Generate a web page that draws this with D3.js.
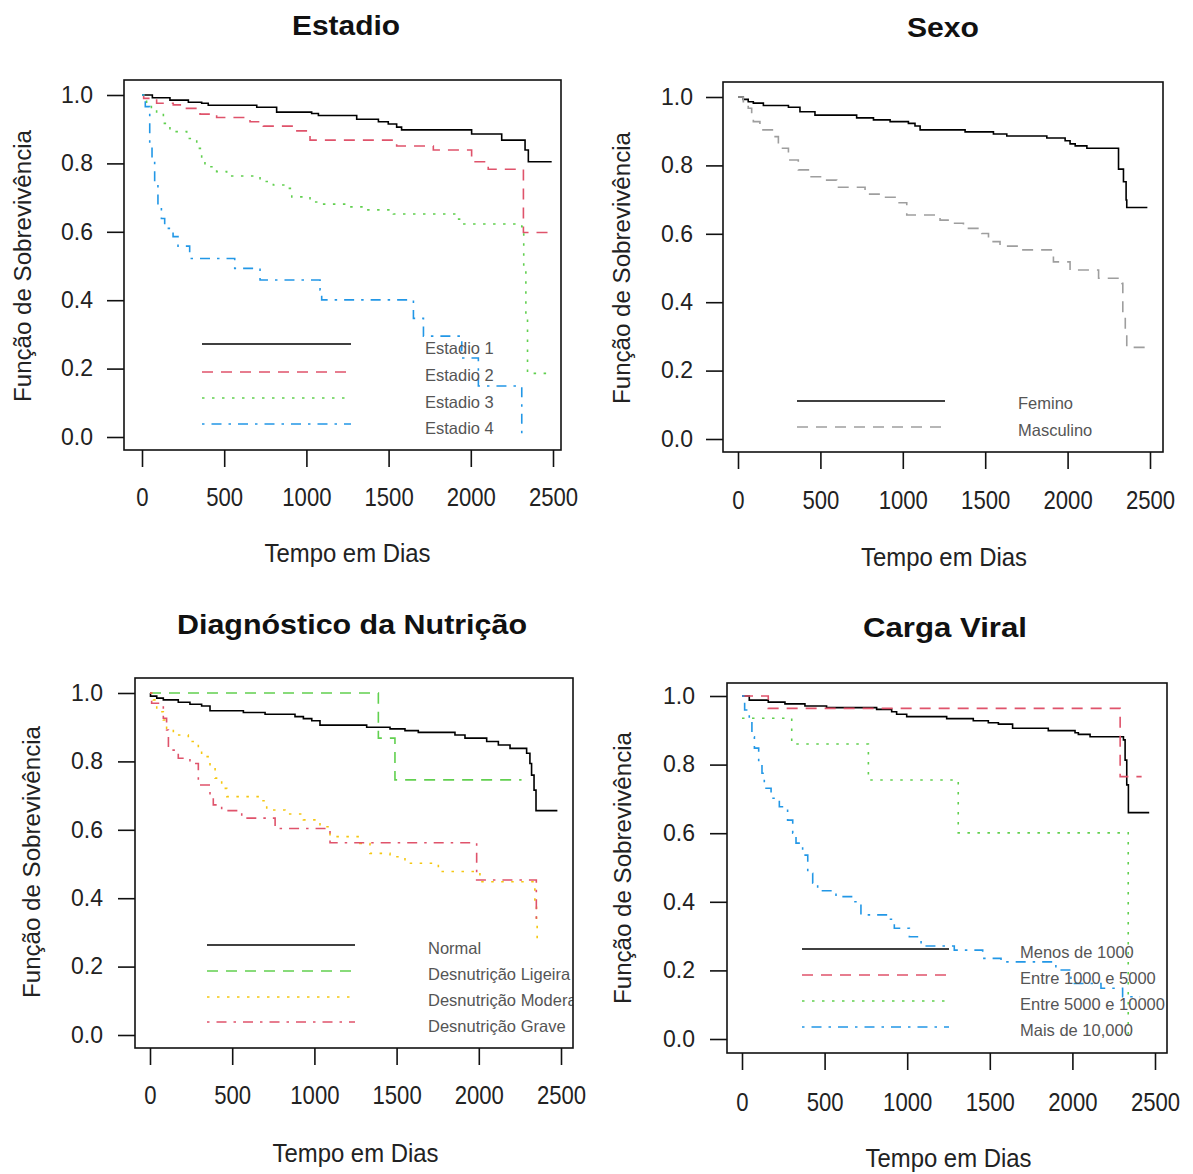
<!DOCTYPE html>
<html><head><meta charset="utf-8">
<script src="https://cdn.jsdelivr.net/npm/d3@7"></script>
<style>
body{margin:0;background:#fff;}
svg{display:block;font-family:"Liberation Sans",Arial,sans-serif;}
</style></head>
<body><svg id="c" width="1193" height="1174"></svg>
<script>
// ---------- DATA ----------
const xTicks = [0, 500, 1000, 1500, 2000, 2500];
const yTicks = [0, 0.2, 0.4, 0.6, 0.8, 1.0];
const titles = ["Estadio", "Sexo", "Diagnóstico da Nutrição", "Carga Viral"];
const xTitle = "Tempo em Dias";
const yTitle = "Função de Sobrevivência";

const estadioLabels = ["Estadio 1", "Estadio 2", "Estadio 3", "Estadio 4"];
const estadio1T = [0, 63, 170, 282, 363, 403, 698, 819, 1032, 1073, 1306, 1438, 1498, 1549, 1579, 2005, 2188, 2330, 2350, 2492];
const estadio1S = [1, .992, .985, .979, .976, .970, .964, .950, .946, .940, .929, .922, .915, .906, .898, .886, .868, .839, .805, .805];
const estadio2T = [0, 10, 89, 190, 262, 353, 454, 657, 738, 931, 1022, 1549, 1772, 2005, 2106, 2320, 2492];
const estadio2S = [1, .990, .976, .971, .961, .944, .934, .922, .909, .895, .868, .851, .839, .805, .783, .598, .598];
const estadio3T = [0, 28, 57, 89, 130, 170, 272, 333, 363, 383, 454, 515, 718, 799, 880, 911, 1022, 1083, 1245, 1347, 1529, 1914, 1945, 2310, 2322, 2335, 2345, 2463];
const estadio3S = [1, .976, .961, .946, .917, .893, .873, .844, .815, .790, .776, .763, .747, .737, .727, .702, .687, .681, .673, .664, .652, .637, .623, .615, .50, .35, .186, .186];
const estadio4T = [0, 20, 47, 61, 77, 97, 118, 138, 189, 219, 290, 564, 718, 1083, 1093, 1651, 1712, 1945, 2046, 2310];
const estadio4S = [1, .966, .849, .810, .742, .673, .639, .610, .586, .558, .522, .493, .459, .430, .401, .347, .295, .231, .149, 0];

const sexoLabels = ["Femino", "Masculino"];
const femT = [0, 32, 62, 93, 154, 306, 376, 467, 720, 822, 923, 1034, 1074, 1105, 1378, 1550, 1631, 1874, 1985, 2015, 2046, 2117, 2309, 2339, 2355, 2359, 2484];
const femS = [1, .993, .986, .982, .975, .970, .957, .947, .939, .933, .928, .923, .915, .904, .898, .892, .886, .880, .872, .863, .857, .850, .789, .752, .699, .677, .677];
const mascT = [0, 32, 62, 83, 93, 133, 214, 245, 306, 366, 427, 518, 599, 771, 872, 953, 1024, 1226, 1307, 1368, 1479, 1520, 1590, 1712, 1914, 2015, 2188, 2329, 2335, 2350, 2359, 2481];
const mascS = [1, .986, .967, .952, .928, .904, .884, .850, .816, .787, .767, .757, .736, .716, .707, .691, .655, .640, .631, .616, .601, .577, .564, .553, .518, .494, .470, .455, .368, .309, .268, .268];

const nutLabels = ["Normal", "Desnutrição Ligeira", "Desnutrição Moderada", "Desnutrição Grave"];
const normalT = [0, 3, 41, 81, 172, 243, 314, 365, 568, 700, 882, 933, 984, 1034, 1318, 1460, 1551, 1632, 1855, 1916, 2048, 2119, 2190, 2291, 2311, 2321, 2336, 2348, 2478];
const normalS = [1, .991, .985, .980, .973, .967, .962, .948, .943, .938, .931, .925, .919, .906, .900, .895, .890, .885, .877, .868, .858, .848, .838, .824, .794, .760, .716, .656, .656];
const ligeiraT = [0, 1389, 1490, 2260];
const ligeiraS = [1, .868, .746, .746];
const moderadaT = [0, 20, 41, 81, 101, 142, 233, 294, 314, 365, 396, 436, 467, 680, 710, 821, 933, 1034, 1095, 1277, 1338, 1460, 1551, 1754, 1987, 2007, 2341, 2351, 2355];
const moderadaS = [1, .980, .945, .921, .897, .877, .858, .833, .814, .785, .751, .721, .697, .685, .658, .646, .629, .609, .580, .560, .531, .521, .502, .478, .471, .448, .385, .327, .268];
const graveT = [0, 10, 81, 101, 112, 172, 243, 294, 365, 385, 436, 558, 761, 1095, 1987, 2350];
const graveS = [1, .970, .926, .892, .833, .809, .794, .731, .697, .673, .656, .634, .604, .562, .453, .34];

const cargaLabels = ["Menos de 1000", "Entre 1000 e 5000", "Entre 5000 e 10000", "Mais de 10,000"];
const menos1000T = [0, 44, 159, 260, 381, 512, 815, 906, 936, 997, 1239, 1400, 1491, 1552, 1638, 1854, 2016, 2036, 2107, 2309, 2319, 2329, 2339, 2465];
const menos1000S = [1, .988, .982, .977, .971, .966, .961, .954, .947, .940, .934, .928, .922, .918, .906, .899, .893, .888, .881, .872, .813, .741, .660, .660];
const entre1000T = [0, 159, 2289, 2419];
const entre1000S = [1, .964, .765, .765];
const entre5000T = [0, 301, 765, 1309, 2338];
const entre5000S = [.935, .860, .755, .601, 0];
const mais10000T = [0, 16, 44, 60, 75, 101, 121, 135, 176, 226, 276, 307, 327, 367, 398, 428, 458, 569, 670, 720, 882, 922, 1013, 1084, 1285, 1457, 1568, 1900, 1991, 2173, 2304, 2410];
const mais10000S = [1, .959, .930, .881, .848, .804, .775, .731, .702, .677, .638, .600, .571, .536, .483, .454, .432, .415, .400, .362, .349, .323, .298, .271, .259, .235, .225, .201, .162, .148, .123, .123];

// ---------- STYLES ----------
const BLACK = "#000000", RED = "#DF536B", GREEN = "#61D04F", BLUE = "#2297E6", YELLOW = "#F5C710", GREY = "#9E9E9E";
const DASH = {solid: null, dashed: "11,8", dotted: "2.5,7.5", dotdash: "2.5,7,10,7"};

const panels = [
  {title: titles[0], titleW: 108, box: [124, 80, 561, 450], xr: [142, 553], yr: [437, 95], ytRight: 93, yTitleX: 23, yTitleY: 266, xLabY: 497, xTitleY: 553, titleX: 346, titleY: 25,
   legX: [202, 351], legY: [344, 372, 398, 424], legTX: 425, legTY: [348, 375, 402, 428],
   series: [[estadio1T, estadio1S, BLACK, "solid"], [estadio2T, estadio2S, RED, "dashed"], [estadio3T, estadio3S, GREEN, "dotted"], [estadio4T, estadio4S, BLUE, "dotdash"]],
   labels: estadioLabels},
  {title: titles[1], titleW: 72, box: [723, 82, 1163, 452], xr: [738, 1150], yr: [439, 97], ytRight: 693, yTitleX: 622, yTitleY: 268, xLabY: 500, xTitleY: 557, titleX: 943, titleY: 27,
   legX: [797, 945], legY: [401, 427], legTX: 1018, legTY: [403, 430],
   series: [[femT, femS, BLACK, "solid"], [mascT, mascS, GREY, "dashed"]],
   labels: sexoLabels},
  {title: titles[2], titleW: 350, box: [135, 678, 573, 1048], xr: [150, 561], yr: [1035, 693], ytRight: 103, yTitleX: 32, yTitleY: 862, xLabY: 1095, xTitleY: 1153, titleX: 352, titleY: 624,
   legX: [207, 355], legY: [945, 971, 997, 1022], legTX: 428, legTY: [948, 974, 1000, 1026],
   series: [[normalT, normalS, BLACK, "solid"], [ligeiraT, ligeiraS, GREEN, "dashed"], [moderadaT, moderadaS, YELLOW, "dotted"], [graveT, graveS, RED, "dotdash"]],
   labels: nutLabels},
  {title: titles[3], titleW: 164, box: [727, 683, 1167, 1053], xr: [742, 1155], yr: [1039, 696], ytRight: 695, yTitleX: 623, yTitleY: 868, xLabY: 1102, xTitleY: 1158, titleX: 945, titleY: 627,
   legX: [802, 949], legY: [949, 975, 1001, 1027], legTX: 1020, legTY: [952, 978, 1004, 1030],
   series: [[menos1000T, menos1000S, BLACK, "solid"], [entre1000T, entre1000S, RED, "dashed"], [entre5000T, entre5000S, GREEN, "dotted"], [mais10000T, mais10000S, BLUE, "dotdash"]],
   labels: cargaLabels}
];

const svg = d3.select("#c");
const defs = svg.append("defs");

panels.forEach((p, i) => {
  const [bl, bt, br, bb] = p.box;
  const x = d3.scaleLinear().domain([0, 2500]).range(p.xr);
  const y = d3.scaleLinear().domain([0, 1]).range(p.yr);
  const g = svg.append("g");

  defs.append("clipPath").attr("id", "clip" + i)
    .append("rect").attr("x", bl).attr("y", bt).attr("width", br - bl).attr("height", bb - bt);

  // title
  g.append("text").attr("x", p.titleX).attr("y", p.titleY).attr("dy", "0.36em")
    .attr("text-anchor", "middle").attr("font-weight", "bold").attr("font-size", 27)
    .attr("textLength", p.titleW).attr("lengthAdjust", "spacingAndGlyphs")
    .attr("fill", "#111").text(p.title);

  // curves
  const line = d3.line().x(d => x(d[0])).y(d => y(d[1])).curve(d3.curveStepAfter);
  const cg = g.append("g").attr("clip-path", `url(#clip${i})`);
  p.series.forEach(([T, S, col, lt]) => {
    const pts = T.map((t, k) => [t, S[k]]);
    cg.append("path").attr("d", line(pts)).attr("fill", "none")
      .attr("stroke", col).attr("stroke-width", 1.6)
      .attr("stroke-dasharray", DASH[lt]);
  });

  // legend
  const lg = g.append("g").attr("clip-path", `url(#clip${i})`);
  p.series.forEach(([T, S, col, lt], k) => {
    lg.append("line").attr("x1", p.legX[0]).attr("x2", p.legX[1])
      .attr("y1", p.legY[k]).attr("y2", p.legY[k])
      .attr("stroke", col).attr("stroke-width", 1.6).attr("stroke-dasharray", DASH[lt]);
    lg.append("text").attr("x", p.legTX).attr("y", p.legTY[k]).attr("dy", "0.36em")
      .attr("font-size", 16.5).attr("fill", "#555").text(p.labels[k]);
  });

  // box
  g.append("rect").attr("x", bl).attr("y", bt).attr("width", br - bl).attr("height", bb - bt)
    .attr("fill", "none").attr("stroke", "#111").attr("stroke-width", 1.6);

  // y axis
  const ya = g.append("g").attr("transform", `translate(${bl},0)`)
    .call(d3.axisLeft(y).tickValues(yTicks).tickFormat(d3.format(".1f")).tickSize(17).tickPadding(0));
  ya.select(".domain").remove();
  ya.selectAll(".tick line").attr("stroke", "#111").attr("stroke-width", 1.6);
  ya.selectAll(".tick text").attr("x", p.ytRight - bl).attr("font-size", 23)
    .attr("font-family", "Liberation Sans, Arial, sans-serif").attr("fill", "#222");

  // x axis
  const xa = g.append("g").attr("transform", `translate(0,${bb})`)
    .call(d3.axisBottom(x).tickValues(xTicks).tickFormat(d3.format("d")).tickSize(17).tickPadding(0));
  xa.select(".domain").remove();
  xa.selectAll(".tick line").attr("stroke", "#111").attr("stroke-width", 1.6);
  xa.selectAll(".tick text").attr("y", p.xLabY - bb).attr("dy", "0.36em").attr("font-size", 26)
    .attr("font-family", "Liberation Sans, Arial, sans-serif").attr("fill", "#222")
    .attr("textLength", d => String(d).length * 12.3).attr("lengthAdjust", "spacingAndGlyphs");

  // axis titles
  const xc = (p.xr[0] + p.xr[1]) / 2;
  g.append("text").attr("x", xc).attr("y", p.xTitleY).attr("dy", "0.36em")
    .attr("text-anchor", "middle").attr("font-size", 25).attr("fill", "#222")
    .attr("textLength", 166).attr("lengthAdjust", "spacingAndGlyphs").text(xTitle);
  g.append("text").attr("transform", `translate(${p.yTitleX},${p.yTitleY}) rotate(-90)`)
    .attr("dy", "0.36em").attr("text-anchor", "middle").attr("font-size", 23).attr("fill", "#222")
    .attr("textLength", 272).attr("lengthAdjust", "spacingAndGlyphs").text(yTitle);
});
</script>
</body></html>
